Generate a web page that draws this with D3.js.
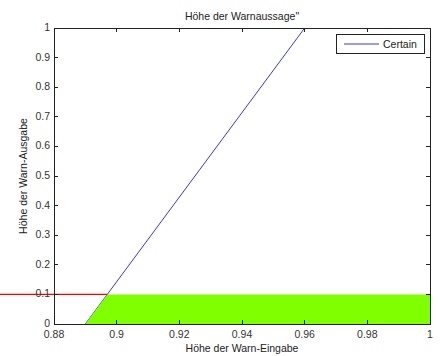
<!DOCTYPE html>
<html><head><meta charset="utf-8">
<script src="https://cdn.jsdelivr.net/npm/d3@7"></script>
<style>body{margin:0;background:#fff}svg{display:block}text{font-family:"Liberation Sans",Arial,sans-serif}</style>
</head><body>
<script>
const xTicks = [0.88, 0.9, 0.92, 0.94, 0.96, 0.98, 1];
const yTicks = [0, 0.1, 0.2, 0.3, 0.4, 0.5, 0.6, 0.7, 0.8, 0.9, 1];
const certainX = [0.89, 0.96, 1];
const certainY = [0, 1, 1];
const fillX = [0.89, 0.897, 1, 1];
const fillY = [0, 0.1, 0.1, 0];
const cutX = [0.86, 0.897];
const cutY = [0.1, 0.1];

const W = 444, H = 356;
const m = {l: 54, r: 14, t: 28, b: 32};
const svg = d3.select("body").append("svg").attr("width", W).attr("height", H);
const x = d3.scaleLinear().domain([0.88, 1]).range([m.l, W - m.r]);
const y = d3.scaleLinear().domain([0, 1]).range([H - m.b, m.t]);
const pts = (xs, ys) => xs.map((v, i) => [x(v), y(ys[i])]);
const line = d3.line();

svg.append("defs").append("clipPath").attr("id", "pc").append("rect")
  .attr("x", x(0.88)).attr("y", y(1) + 1).attr("width", x(1) - x(0.88)).attr("height", y(0) - y(1) - 1);

svg.append("path").attr("d", line(pts(certainX, certainY))).attr("clip-path", "url(#pc)")
  .attr("fill", "none").attr("stroke", "#0000ff").attr("stroke-width", 0.8);
svg.append("path").attr("d", line(pts(fillX, fillY)) + "Z").attr("fill", "#80ff00");
svg.append("path").attr("d", line(pts(cutX, cutY))).attr("fill", "none").attr("stroke", "#ff0000").attr("stroke-width", 1.3);

const fmt = d => String(+d.toFixed(2));
const tl = 4;
const ax = svg.append("g").attr("stroke", "#222").attr("stroke-width", 1).attr("fill", "none").attr("shape-rendering", "crispEdges");
ax.append("rect").attr("x", x(0.88)).attr("y", y(1)).attr("width", x(1) - x(0.88)).attr("height", y(0) - y(1));
xTicks.forEach(t => {
  ax.append("line").attr("x1", x(t)).attr("x2", x(t)).attr("y1", y(0)).attr("y2", y(0) - tl);
  ax.append("line").attr("x1", x(t)).attr("x2", x(t)).attr("y1", y(1)).attr("y2", y(1) + tl);
});
yTicks.forEach(t => {
  ax.append("line").attr("y1", y(t)).attr("y2", y(t)).attr("x1", x(0.88)).attr("x2", x(0.88) + tl);
  ax.append("line").attr("y1", y(t)).attr("y2", y(t)).attr("x1", x(1)).attr("x2", x(1) - tl);
});
svg.append("g").selectAll("text").data(xTicks).join("text")
  .attr("x", d => x(d)).attr("y", y(0) + 14).attr("text-anchor", "middle")
  .attr("font-size", 10.5).attr("fill", "#333").text(fmt);
svg.append("g").selectAll("text").data(yTicks).join("text")
  .attr("x", x(0.88) - 4).attr("y", d => y(d) + 3).attr("text-anchor", "end")
  .attr("font-size", 10.5).attr("fill", "#333").text(fmt);

svg.append("text").attr("x", (x(0.88) + x(1)) / 2).attr("y", 20).attr("text-anchor", "middle")
  .attr("font-size", 10.5).attr("fill", "#222").text("Höhe der Warnaussage\"");
svg.append("text").attr("x", (x(0.88) + x(1)) / 2).attr("y", 352).attr("text-anchor", "middle")
  .attr("font-size", 10.5).attr("fill", "#222").text("Höhe der Warn-Eingabe");
svg.append("text").attr("transform", `translate(27,${(y(0) + y(1)) / 2}) rotate(-90)`).attr("text-anchor", "middle")
  .attr("font-size", 10.5).attr("fill", "#222").text("Höhe der Warn-Ausgabe");

const lg = svg.append("g");
lg.append("rect").attr("x", 336.5).attr("y", 34.5).attr("width", 88).attr("height", 19)
  .attr("fill", "#fff").attr("stroke", "#222");
lg.append("line").attr("x1", 344).attr("x2", 379).attr("y1", 44).attr("y2", 44).attr("stroke", "#0000ff").attr("stroke-width", 0.8);
lg.append("text").attr("x", 383).attr("y", 48).attr("font-size", 10.5).attr("fill", "#222").text("Certain");
</script>
</body></html>
